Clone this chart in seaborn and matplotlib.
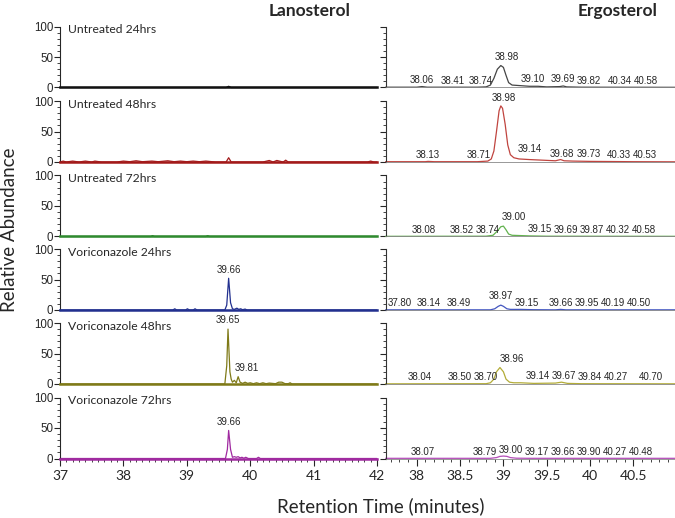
import numpy as np
import matplotlib
matplotlib.use('Agg')
import matplotlib.pyplot as plt
from matplotlib.ticker import MultipleLocator, FuncFormatter
import seaborn as sns

# Sample names (one row each)
samples = ['Untreated 24hrs', 'Untreated 48hrs', 'Untreated 72hrs',
           'Voriconazole 24hrs', 'Voriconazole 48hrs', 'Voriconazole 72hrs']

# Lanosterol chromatograms (retention time, relative abundance)
lan_t_u24 = [37.0, 39.62, 39.66, 39.70, 42.0]
lan_a_u24 = [0, 0, 2, 0, 0]
lan_t_u48 = [37.0, 37.05, 37.1, 37.2, 37.3, 37.4, 37.5, 37.55, 37.65, 37.9, 38.0, 38.1, 38.2,
             38.3, 38.45, 38.55, 38.7, 38.8, 38.9, 39.0, 39.1, 39.2, 39.3, 39.45, 39.62, 39.66,
             39.70, 39.8, 40.2, 40.3, 40.36, 40.42, 40.52, 40.56, 40.6, 41.85, 41.9, 41.95, 42.0]
lan_a_u48 = [0, 1.5, 0, 1.5, 0, 1.5, 0, 1.5, 0, 0, 1.5, 0.5, 2, 0.5, 1.5, 0.5, 2, 0.5, 1.5,
             0.5, 1.5, 0.5, 1.5, 0, 0, 7, 0, 0, 0, 2.5, 0, 2.5, 0, 3, 0, 0, 1.5, 0, 0]
lan_t_u72 = [37.0, 38.43, 38.46, 38.49, 39.3, 39.33, 39.36, 42.0]
lan_a_u72 = [0, 0, 1.5, 0, 0, 1.5, 0, 0]
lan_t_v24 = [37.0, 38.78, 38.81, 38.84, 38.98, 39.01, 39.04, 39.1, 39.13, 39.16, 39.6, 39.63,
             39.66, 39.69, 39.72, 39.75, 39.79, 39.82, 39.85, 39.88, 39.92, 39.95, 42.0]
lan_a_v24 = [0, 0, 2, 0, 0, 2, 0, 0, 2, 0, 0, 8, 52, 12, 2, 1, 3, 1, 2, 0.5, 1.5, 0, 0]
lan_t_v48 = [37.0, 39.6, 39.63, 39.65, 39.68, 39.70, 39.72, 39.75, 39.78, 39.81, 39.84, 39.88,
             39.92, 39.96, 40.0, 40.05, 40.1, 40.15, 40.2, 40.25, 40.3, 40.4, 40.45, 40.5,
             40.55, 40.6, 40.63, 40.66, 42.0]
lan_a_v48 = [0, 0, 30, 90, 20, 8, 3, 6, 2, 12, 3, 1, 3, 1, 2, 0.5, 2, 0.5, 2, 0.5, 1.5, 0.5,
             3, 3, 0.5, 0.5, 2, 0, 0]
lan_t_v72 = [37.0, 39.61, 39.64, 39.66, 39.69, 39.72, 39.75, 39.78, 39.81, 39.84, 39.87, 39.9,
             39.93, 39.97, 40.1, 40.13, 40.16, 42.0]
lan_a_v72 = [0, 0, 15, 46, 15, 2, 3, 2, 3, 1, 2, 0.5, 2, 0, 0, 2, 0, 0]

# Ergosterol chromatograms
erg_t_u24 = [37.64, 38.0, 38.06, 38.12, 38.7, 38.8, 38.85, 38.89, 38.93, 38.97, 39.0, 39.03,
             39.06, 39.1, 39.2, 39.3, 39.4, 39.5, 39.65, 39.69, 39.73, 39.9, 40.98]
erg_a_u24 = [0.5, 0.5, 1.5, 0.5, 0.5, 1, 4, 15, 30, 36, 33, 20, 8, 4, 3, 2, 2, 1, 1.5, 2.5,
             1, 0.5, 0.3]
erg_t_u48 = [37.64, 38.1, 38.13, 38.2, 38.7, 38.82, 38.86, 38.89, 38.92, 38.95, 38.97, 38.99,
             39.02, 39.05, 39.08, 39.12, 39.18, 39.3, 39.45, 39.6, 39.66, 39.7, 39.8, 40.0,
             40.5, 40.98]
erg_a_u48 = [0.5, 0.5, 1, 0.5, 0.5, 1.5, 5, 18, 50, 84, 92, 88, 62, 28, 12, 7, 5, 4, 3, 2, 4,
             2, 1.5, 1, 0.5, 0.3]
erg_t_u72 = [37.64, 38.8, 38.88, 38.93, 38.97, 39.0, 39.03, 39.06, 39.1, 39.2, 39.3, 39.5,
             39.7, 40.98]
erg_a_u72 = [0.3, 0.5, 2, 9, 16, 17, 11, 4, 2, 1.5, 1, 0.5, 0.5, 0.3]
erg_t_v24 = [37.64, 38.85, 38.9, 38.94, 38.97, 39.0, 39.04, 39.08, 39.2, 39.35, 39.6, 39.66,
             39.72, 40.98]
erg_a_v24 = [0.3, 0.3, 2, 6, 8, 6, 2, 1, 1, 0.5, 0.3, 1, 0.3, 0.3]
erg_t_v48 = [37.64, 38.8, 38.85, 38.89, 38.92, 38.96, 39.0, 39.03, 39.07, 39.12, 39.2, 39.35,
             39.6, 39.67, 39.74, 39.9, 40.98]
erg_a_v48 = [0.3, 0.5, 2, 8, 20, 27, 20, 8, 3, 2, 2, 1, 1.5, 3, 1, 0.5, 0.3]
erg_t_v72 = [37.64, 38.85, 38.92, 38.96, 39.0, 39.04, 39.08, 39.15, 39.3, 40.98]
erg_a_v72 = [0.3, 0.3, 1.5, 3.5, 4, 3.5, 1.5, 0.5, 0.3, 0.3]

# Peak labels (retention times)
lan_peaks = [[], [], [], [39.66], [39.65, 39.81], [39.66]]
erg_peaks = [[38.06, 38.41, 38.74, 38.98, 39.10, 39.69, 39.82, 40.34, 40.58],
             [38.13, 38.71, 38.98, 39.14, 39.68, 39.73, 40.33, 40.53],
             [38.08, 38.52, 38.74, 39.00, 39.15, 39.69, 39.87, 40.32, 40.58],
             [37.80, 38.14, 38.49, 38.97, 39.15, 39.66, 39.95, 40.19, 40.50],
             [38.04, 38.50, 38.70, 38.96, 39.14, 39.67, 39.84, 40.27, 40.70],
             [38.07, 38.79, 39.00, 39.17, 39.66, 39.90, 40.27, 40.48]]

lan_t = [lan_t_u24, lan_t_u48, lan_t_u72, lan_t_v24, lan_t_v48, lan_t_v72]
lan_a = [lan_a_u24, lan_a_u48, lan_a_u72, lan_a_v24, lan_a_v48, lan_a_v72]
erg_t = [erg_t_u24, erg_t_u48, erg_t_u72, erg_t_v24, erg_t_v48, erg_t_v72]
erg_a = [erg_a_u24, erg_a_u48, erg_a_u72, erg_a_v24, erg_a_v48, erg_a_v72]

lan_colors = ['#111111', '#a31a1a', '#2f8a2f', '#22308f', '#7f7a18', '#a02aa0']
erg_colors = ['#454545', '#c0443f', '#62b24e', '#4356c0', '#b3ac38', '#b44cb8']

sns.set_style('ticks')
plt.rcParams['font.family'] = ['Lato', 'DejaVu Sans']

fig = plt.figure(figsize=(6.75, 5.18), dpi=100)
W, H = 675.0, 518.0
baselines = [87.5, 162, 236.5, 310, 384, 458.5]
row_h = 61.0


def label_peaks(ax, t, a, peaks, min_gap):
    last = -1e9
    for rt in peaks:
        h = np.interp(rt, t, a)
        x = max(rt, last + min_gap)
        last = x
        off = 6 if h > 5 else 2.5
        ax.text(x, h + off, f'{rt:.2f}', ha='center', va='bottom', fontsize=7,
                family='Liberation Sans', clip_on=False)


for i in range(6):
    bottom = 1 - baselines[i] / H
    axl = fig.add_axes([60 / W, bottom, 317 / W, row_h / H])
    axr = fig.add_axes([386 / W, bottom, 289 / W, row_h / H])

    sns.lineplot(x=lan_t[i], y=lan_a[i], ax=axl, color=lan_colors[i], lw=0.9,
                 estimator=None)
    sns.lineplot(x=erg_t[i], y=erg_a[i], ax=axr, color=erg_colors[i], lw=0.9,
                 estimator=None)
    for ln in axl.lines + axr.lines:
        ln.set_clip_on(False)

    label_peaks(axl, lan_t[i], lan_a[i], lan_peaks[i], 0.3)
    label_peaks(axr, erg_t[i], erg_a[i], erg_peaks[i], 0.3)

    axl.text(0.025, 0.95, samples[i], transform=axl.transAxes, ha='left', va='center',
             fontsize=8.7)

    for ax, xlim, major in [(axl, (37, 42), 1), (axr, (37.645, 40.98), 0.5)]:
        ax.set_xlim(*xlim)
        ax.set_ylim(0, 100)
        ax.set_xlabel('')
        ax.set_ylabel('')
        ax.set_yticks([0, 50, 100])
        ax.yaxis.set_minor_locator(MultipleLocator(10))
        ax.xaxis.set_major_locator(MultipleLocator(major))
        ax.xaxis.set_minor_locator(MultipleLocator(0.1))
        ax.xaxis.set_major_formatter(FuncFormatter(lambda v, p: f'{v:g}'))
        ax.spines['top'].set_visible(False)
        ax.spines['right'].set_visible(False)
        ax.spines['left'].set_linewidth(0.8)
        ax.tick_params(axis='y', which='major', direction='out', length=4, width=0.8,
                       labelsize=8.3, pad=1)
        ax.tick_params(axis='y', which='minor', direction='out', length=2, width=0.6)
        if i < 5:
            ax.tick_params(axis='x', which='both', length=0, labelbottom=False)
        else:
            ax.tick_params(axis='x', which='major', direction='out', length=5, width=0.8,
                           labelsize=10, pad=3)
            ax.tick_params(axis='x', which='minor', direction='out', length=2.5, width=0.6)
        ax.patch.set_alpha(0)
    for lbl in axl.get_yticklabels():
        lbl.set_family('Liberation Sans')
    axr.tick_params(axis='y', labelleft=False)
    axl.spines['bottom'].set_color(lan_colors[i])
    axl.spines['bottom'].set_linewidth(1.8)
    axr.spines['bottom'].set_color('#888888')
    axr.spines['bottom'].set_linewidth(0.6)
    axr.spines['left'].set_color('#333333')

fig.text(310 / W, 1 - 11 / H, 'Lanosterol', ha='center', va='center', fontsize=12.5,
         fontweight='bold')
fig.text(618 / W, 1 - 11 / H, 'Ergosterol', ha='center', va='center', fontsize=12.5,
         fontweight='bold')
fig.text(10 / W, 1 - 230 / H, 'Relative Abundance', rotation=90, ha='center', va='center',
         fontsize=13.5)
fig.text(381 / W, 1 - 506 / H, 'Retention Time (minutes)', ha='center', va='center',
         fontsize=13.5)

fig.savefig('out.png', dpi=100)
